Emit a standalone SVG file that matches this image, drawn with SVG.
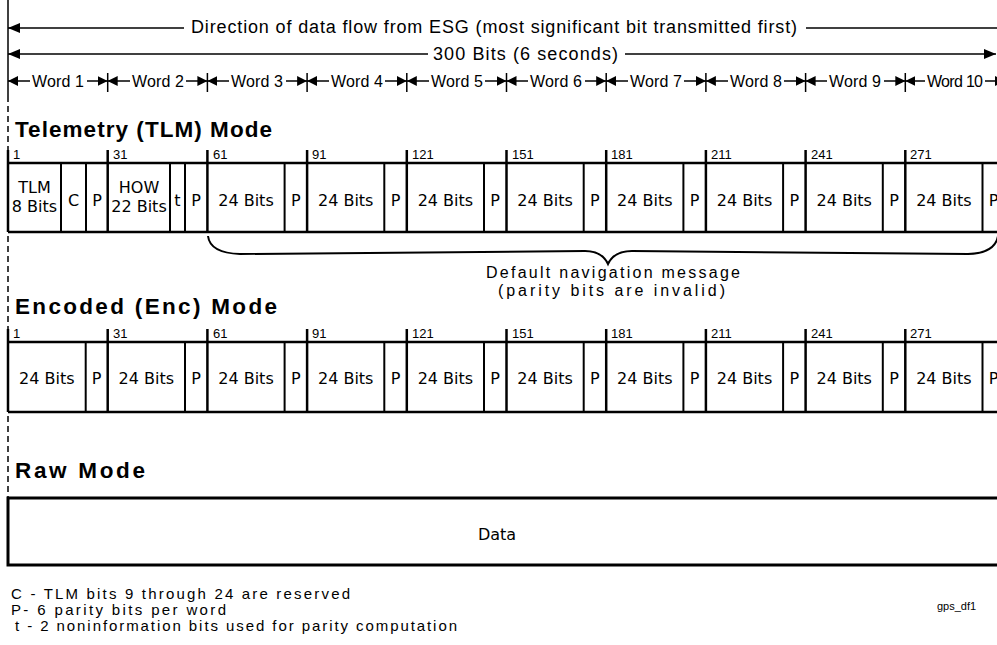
<svg xmlns="http://www.w3.org/2000/svg" width="997" height="645" viewBox="0 0 997 645">
<style>
.t{font-family:"Liberation Sans",Arial,sans-serif;fill:#000}
.c{font-family:"DejaVu Sans","Liberation Sans",sans-serif;font-size:16px;fill:#000;text-anchor:middle}
.h{font-family:"Liberation Sans",Arial,sans-serif;font-weight:bold;font-size:22.5px;fill:#000}
.n{font-family:"Liberation Sans",Arial,sans-serif;font-size:13px;fill:#000}
.ln{stroke:#000;stroke-width:1.5;fill:none}
.b{stroke:#000;stroke-width:2.5;fill:none}
.d{stroke:#000;stroke-width:2;fill:none}
.tk{stroke:#000;stroke-width:2.5}
</style>
<defs>
<marker id="ab" viewBox="0 0 12 10" refX="12" refY="5" markerUnits="userSpaceOnUse" markerWidth="12" markerHeight="10" orient="auto-start-reverse"><path d="M0,0 L12,5 L0,10 z" fill="#000"/></marker>
<marker id="aw" viewBox="0 0 10 10" refX="10" refY="5" markerUnits="userSpaceOnUse" markerWidth="10" markerHeight="10" orient="auto-start-reverse"><path d="M0,0 L10,5 L0,10 z" fill="#000"/></marker>
</defs>
<rect width="997" height="645" fill="#fff"/>

<g id="connectors">
<line class="ln" x1="8" y1="0" x2="8" y2="96"/>
<line class="ln" x1="8" y1="96" x2="8" y2="498" stroke-dasharray="6,4"/>
<line class="ln" x1="8" y1="28" x2="184" y2="28" marker-start="url(#ab)"/>
<line class="ln" x1="806" y1="28" x2="997" y2="28"/>
<line class="ln" x1="8" y1="54" x2="428" y2="54" marker-start="url(#ab)"/>
<line class="ln" x1="625" y1="54" x2="996" y2="54" marker-end="url(#ab)"/>
<g id="word-ticks" class="ln">
<line x1="107.7" y1="73" x2="107.7" y2="92"/><line x1="207.4" y1="73" x2="207.4" y2="92"/><line x1="307.1" y1="73" x2="307.1" y2="92"/><line x1="406.8" y1="73" x2="406.8" y2="92"/><line x1="506.5" y1="73" x2="506.5" y2="92"/><line x1="606.2" y1="73" x2="606.2" y2="92"/><line x1="705.9" y1="73" x2="705.9" y2="92"/><line x1="805.6" y1="73" x2="805.6" y2="92"/><line x1="905.3" y1="73" x2="905.3" y2="92"/>
</g>
<g id="word-arrows" class="ln">
<line x1="8" y1="81" x2="30" y2="81" marker-start="url(#aw)"/><line x1="87" y1="81" x2="107.7" y2="81" marker-end="url(#aw)"/>
<line x1="107.7" y1="81" x2="130" y2="81" marker-start="url(#aw)"/><line x1="186" y1="81" x2="207.4" y2="81" marker-end="url(#aw)"/>
<line x1="207.4" y1="81" x2="229" y2="81" marker-start="url(#aw)"/><line x1="286" y1="81" x2="307.1" y2="81" marker-end="url(#aw)"/>
<line x1="307.1" y1="81" x2="329" y2="81" marker-start="url(#aw)"/><line x1="385" y1="81" x2="406.8" y2="81" marker-end="url(#aw)"/>
<line x1="406.8" y1="81" x2="429" y2="81" marker-start="url(#aw)"/><line x1="485" y1="81" x2="506.5" y2="81" marker-end="url(#aw)"/>
<line x1="506.5" y1="81" x2="528" y2="81" marker-start="url(#aw)"/><line x1="585" y1="81" x2="606.2" y2="81" marker-end="url(#aw)"/>
<line x1="606.2" y1="81" x2="628" y2="81" marker-start="url(#aw)"/><line x1="684" y1="81" x2="705.9" y2="81" marker-end="url(#aw)"/>
<line x1="705.9" y1="81" x2="728" y2="81" marker-start="url(#aw)"/><line x1="784" y1="81" x2="805.6" y2="81" marker-end="url(#aw)"/>
<line x1="805.6" y1="81" x2="827" y2="81" marker-start="url(#aw)"/><line x1="884" y1="81" x2="905.3" y2="81" marker-end="url(#aw)"/>
<line x1="905.3" y1="81" x2="925" y2="81" marker-start="url(#aw)"/><line x1="985" y1="81" x2="1005" y2="81" marker-end="url(#aw)"/>
</g>
<path id="brace" class="d" d="M208,236 Q210,253 240,254 L585,251 Q602,251 608,264 Q614,251 632,251 L968,254 Q995,253 998,236"/>
</g>

<g id="header-texts">
<text class="t" x="191" y="33" font-size="18" textLength="606" lengthAdjust="spacing">Direction of data flow from ESG (most significant bit transmitted first)</text>
<text class="t" x="433" y="60" font-size="18" textLength="185" lengthAdjust="spacing">300 Bits (6 seconds)</text>
<g class="t" font-size="16">
<text x="32" y="87" textLength="52">Word 1</text><text x="132" y="87" textLength="52">Word 2</text><text x="231" y="87" textLength="52">Word 3</text><text x="331" y="87" textLength="52">Word 4</text><text x="431" y="87" textLength="52">Word 5</text><text x="530" y="87" textLength="52">Word 6</text><text x="630" y="87" textLength="52">Word 7</text><text x="730" y="87" textLength="52">Word 8</text><text x="829" y="87" textLength="52">Word 9</text><text x="927" y="87" textLength="56">Word 10</text>
</g>
</g>

<g id="tlm-mode">
<text class="h" x="15" y="137" textLength="257" lengthAdjust="spacing">Telemetry (TLM) Mode</text>
<g class="tk"><line x1="8" y1="150" x2="8" y2="163"/><line x1="107.7" y1="150" x2="107.7" y2="163"/><line x1="207.4" y1="150" x2="207.4" y2="163"/><line x1="307.1" y1="150" x2="307.1" y2="163"/><line x1="406.8" y1="150" x2="406.8" y2="163"/><line x1="506.5" y1="150" x2="506.5" y2="163"/><line x1="606.2" y1="150" x2="606.2" y2="163"/><line x1="705.9" y1="150" x2="705.9" y2="163"/><line x1="805.6" y1="150" x2="805.6" y2="163"/><line x1="905.3" y1="150" x2="905.3" y2="163"/></g>
<g class="n"><text x="13" y="159">1</text><text x="113" y="159">31</text><text x="213" y="159">61</text><text x="312" y="159">91</text><text x="412" y="159">121</text><text x="512" y="159">151</text><text x="611" y="159">181</text><text x="711" y="159">211</text><text x="811" y="159">241</text><text x="910" y="159">271</text></g>
<line class="b" x1="8" y1="163" x2="1000" y2="163"/>
<line class="b" x1="8" y1="232" x2="1000" y2="232"/>
<g class="d">
<line x1="8" y1="163" x2="8" y2="232" stroke-width="2.5"/><line x1="61" y1="163" x2="61" y2="232"/><line x1="86" y1="163" x2="86" y2="232"/><line x1="107.7" y1="163" x2="107.7" y2="232" stroke-width="2.5"/><line x1="170" y1="163" x2="170" y2="232"/><line x1="185" y1="163" x2="185" y2="232"/>
<line x1="207.4" y1="163" x2="207.4" y2="232" stroke-width="2.5"/><line x1="284.6" y1="163" x2="284.6" y2="232"/>
<line x1="307.1" y1="163" x2="307.1" y2="232" stroke-width="2.5"/><line x1="384.3" y1="163" x2="384.3" y2="232"/>
<line x1="406.8" y1="163" x2="406.8" y2="232" stroke-width="2.5"/><line x1="484" y1="163" x2="484" y2="232"/>
<line x1="506.5" y1="163" x2="506.5" y2="232" stroke-width="2.5"/><line x1="583.7" y1="163" x2="583.7" y2="232"/>
<line x1="606.2" y1="163" x2="606.2" y2="232" stroke-width="2.5"/><line x1="683.4" y1="163" x2="683.4" y2="232"/>
<line x1="705.9" y1="163" x2="705.9" y2="232" stroke-width="2.5"/><line x1="783.1" y1="163" x2="783.1" y2="232"/>
<line x1="805.6" y1="163" x2="805.6" y2="232" stroke-width="2.5"/><line x1="882.8" y1="163" x2="882.8" y2="232"/>
<line x1="905.3" y1="163" x2="905.3" y2="232" stroke-width="2.5"/><line x1="982.5" y1="163" x2="982.5" y2="232"/>
</g>
<g class="c">
<text x="34.5" y="193">TLM</text><text x="34.5" y="212">8 Bits</text>
<text x="73.5" y="206">C</text><text x="97" y="206">P</text>
<text x="139" y="193">HOW</text><text x="139" y="212">22 Bits</text>
<text x="177.5" y="206">t</text><text x="196.2" y="206">P</text>
<text x="246" y="206">24 Bits</text><text x="295.8" y="206">P</text>
<text x="345.7" y="206">24 Bits</text><text x="395.5" y="206">P</text>
<text x="445.4" y="206">24 Bits</text><text x="495.2" y="206">P</text>
<text x="545.1" y="206">24 Bits</text><text x="594.9" y="206">P</text>
<text x="644.8" y="206">24 Bits</text><text x="694.6" y="206">P</text>
<text x="744.5" y="206">24 Bits</text><text x="794.3" y="206">P</text>
<text x="844.2" y="206">24 Bits</text><text x="894" y="206">P</text>
<text x="943.9" y="206">24 Bits</text><text x="993.7" y="206">P</text>
</g>
</g>

<g id="default-nav-label" class="t" font-size="16">
<text x="486" y="278" textLength="254" lengthAdjust="spacing">Default navigation message</text>
<text x="498" y="296" textLength="227" lengthAdjust="spacing">(parity bits are invalid)</text>
</g>

<g id="enc-mode">
<text class="h" x="15" y="314" textLength="262" lengthAdjust="spacing">Encoded (Enc) Mode</text>
<g class="tk"><line x1="8" y1="329" x2="8" y2="342"/><line x1="107.7" y1="329" x2="107.7" y2="342"/><line x1="207.4" y1="329" x2="207.4" y2="342"/><line x1="307.1" y1="329" x2="307.1" y2="342"/><line x1="406.8" y1="329" x2="406.8" y2="342"/><line x1="506.5" y1="329" x2="506.5" y2="342"/><line x1="606.2" y1="329" x2="606.2" y2="342"/><line x1="705.9" y1="329" x2="705.9" y2="342"/><line x1="805.6" y1="329" x2="805.6" y2="342"/><line x1="905.3" y1="329" x2="905.3" y2="342"/></g>
<g class="n"><text x="13" y="338">1</text><text x="113" y="338">31</text><text x="213" y="338">61</text><text x="312" y="338">91</text><text x="412" y="338">121</text><text x="512" y="338">151</text><text x="611" y="338">181</text><text x="711" y="338">211</text><text x="811" y="338">241</text><text x="910" y="338">271</text></g>
<line class="b" x1="8" y1="342" x2="1000" y2="342"/>
<line class="b" x1="8" y1="412" x2="1000" y2="412"/>
<g class="d">
<line x1="8" y1="342" x2="8" y2="412" stroke-width="2.5"/><line x1="85.7" y1="342" x2="85.7" y2="412"/>
<line x1="107.7" y1="342" x2="107.7" y2="412" stroke-width="2.5"/><line x1="185" y1="342" x2="185" y2="412"/>
<line x1="207.4" y1="342" x2="207.4" y2="412" stroke-width="2.5"/><line x1="284.6" y1="342" x2="284.6" y2="412"/>
<line x1="307.1" y1="342" x2="307.1" y2="412" stroke-width="2.5"/><line x1="384.3" y1="342" x2="384.3" y2="412"/>
<line x1="406.8" y1="342" x2="406.8" y2="412" stroke-width="2.5"/><line x1="484" y1="342" x2="484" y2="412"/>
<line x1="506.5" y1="342" x2="506.5" y2="412" stroke-width="2.5"/><line x1="583.7" y1="342" x2="583.7" y2="412"/>
<line x1="606.2" y1="342" x2="606.2" y2="412" stroke-width="2.5"/><line x1="683.4" y1="342" x2="683.4" y2="412"/>
<line x1="705.9" y1="342" x2="705.9" y2="412" stroke-width="2.5"/><line x1="783.1" y1="342" x2="783.1" y2="412"/>
<line x1="805.6" y1="342" x2="805.6" y2="412" stroke-width="2.5"/><line x1="882.8" y1="342" x2="882.8" y2="412"/>
<line x1="905.3" y1="342" x2="905.3" y2="412" stroke-width="2.5"/><line x1="982.5" y1="342" x2="982.5" y2="412"/>
</g>
<g class="c">
<text x="46.8" y="384">24 Bits</text><text x="96.7" y="384">P</text>
<text x="146.3" y="384">24 Bits</text><text x="196.2" y="384">P</text>
<text x="246" y="384">24 Bits</text><text x="295.8" y="384">P</text>
<text x="345.7" y="384">24 Bits</text><text x="395.5" y="384">P</text>
<text x="445.4" y="384">24 Bits</text><text x="495.2" y="384">P</text>
<text x="545.1" y="384">24 Bits</text><text x="594.9" y="384">P</text>
<text x="644.8" y="384">24 Bits</text><text x="694.6" y="384">P</text>
<text x="744.5" y="384">24 Bits</text><text x="794.3" y="384">P</text>
<text x="844.2" y="384">24 Bits</text><text x="894" y="384">P</text>
<text x="943.9" y="384">24 Bits</text><text x="993.7" y="384">P</text>
</g>
</g>

<g id="raw-mode">
<text class="h" x="15" y="478" textLength="130" lengthAdjust="spacing">Raw Mode</text>
<rect x="8" y="498" width="1000" height="67" fill="none" stroke="#000" stroke-width="3"/>
<text class="c" x="497" y="540">Data</text>
</g>

<g id="legend" class="t" font-size="15">
<text x="11" y="599" textLength="339" lengthAdjust="spacing">C - TLM bits 9 through 24 are reserved</text>
<text x="11" y="615" textLength="215" lengthAdjust="spacing">P- 6 parity bits per word</text>
<text x="15" y="631" textLength="442" lengthAdjust="spacing">t - 2 noninformation bits used for parity computation</text>
</g>
<text id="fig-id" class="t" x="937" y="610" font-size="11">gps_df1</text>
</svg>
